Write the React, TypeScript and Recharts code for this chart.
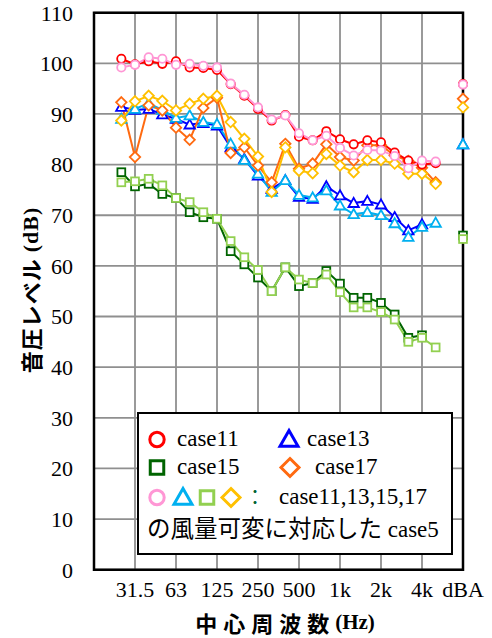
import React from 'react';
import { LineChart, Line, XAxis, YAxis, CartesianGrid, ReferenceArea } from 'recharts';

// 1/3 octave bands, 25 Hz .. 5 kHz (axis index 2..25), dBA sits at index 27
const bands = ['25', '31.5', '40', '50', '63', '80', '100', '125', '160', '200', '250', '315',
  '400', '500', '630', '800', '1k', '1.25k', '1.6k', '2k', '2.5k', '3.15k', '4k', '5k'];
const tickPos = [3, 6, 9, 12, 15, 18, 21, 24, 27];
const tickLabels = ['31.5', '63', '125', '250', '500', '1k', '2k', '4k', 'dBA'];
const yTicks = [0, 10, 20, 30, 40, 50, 60, 70, 80, 90, 100, 110];

const case11 = [100.9, 99.8, 100.4, 99.9, 100.4, 99.2, 99.1, 98.7, 95.9, 93.6, 91.0, 88.7,
  89.8, 85.5, 84.8, 86.6, 85.0, 84.0, 84.8, 84.4, 82.4, 80.8, 80.0, 80.3];
const case13 = [91.4, 90.8, 91.0, 89.9, 89.0, 87.9, 88.2, 87.7, 83.4, 81.1, 77.8, 75.2,
  76.9, 73.6, 73.2, 75.7, 73.9, 72.4, 72.8, 72.1, 69.6, 67.0, 68.2, null];
const case15 = [78.5, 75.7, 76.2, 74.2, 73.4, 70.6, 69.6, 69.3, 62.9, 60.3, 57.7, 55.0,
  59.7, 56.0, 56.6, 59.0, 56.5, 53.7, 53.7, 52.7, 50.4, 45.8, 46.3, null];
const case17 = [92.3, 81.5, 91.7, 90.7, 87.3, 84.9, 91.2, 93.2, 82.3, 83.4, 79.8, 76.5,
  84.1, 79.2, 80.2, 84.0, 81.5, 80.8, 83.8, 83.8, 81.8, 80.7, 79.4, 76.5];
const case5for11 = [99.2, 99.7, 101.2, 100.9, 99.7, 99.9, 99.5, 99.2, 96.0, 93.8, 91.3, 88.9,
  89.7, 86.2, 84.8, 85.7, 83.3, 81.8, 82.9, 82.8, 81.7, 79.3, 80.8, 80.6];
const case5for13 = [89.0, 91.0, 92.1, 90.8, 89.2, 89.7, 88.4, 88.0, 84.1, 80.9, 78.2, 74.6,
  76.9, 74.0, 73.5, 74.9, 71.9, 70.2, 70.6, 70.0, 68.4, 65.7, 67.7, 68.5];
const case5for15 = [76.5, 76.7, 77.2, 75.9, 73.4, 72.6, 70.6, 69.3, 64.9, 61.7, 59.2, 55.0,
  59.7, 57.3, 56.6, 58.3, 54.8, 51.8, 51.8, 50.9, 49.4, 45.0, 45.8, 43.9];
const case5for17 = [88.7, 92.5, 93.6, 92.6, 90.7, 92.0, 93.0, 93.6, 88.4, 85.1, 81.6, 74.6,
  83.4, 78.8, 78.3, 82.1, 79.8, 78.5, 80.9, 80.9, 80.2, 78.2, 78.2, 76.2];

const dBA = { c11: 95.9, c13: 84.0, c15: 66.0, c17: 93.0, p11: 95.8, p13: 84.0, p15: 65.3, p17: 91.3 };

const data: any[] = bands.map((b, k) => ({
  x: k + 2, band: b,
  c11: case11[k], c13: case13[k], c15: case15[k], c17: case17[k],
  p11: case5for11[k], p13: case5for13[k], p15: case5for15[k], p17: case5for17[k],
}));
data.push({ x: 26 });
data.push({ x: 27, band: 'dBA', ...dBA });

const serif = 'Liberation Serif, Times New Roman, DejaVu Serif, serif';
const cjk = 'Noto Sans CJK JP, sans-serif';

type Shape = 'circle' | 'triangle' | 'square' | 'diamond';

function drawShape(shape: Shape, cx: number, cy: number, color: string, s: number, sw: number, key?: any) {
  if (shape === 'circle') {
    return <circle key={key} cx={cx} cy={cy} r={s * 0.8} fill="#fff" stroke={color} strokeWidth={sw} />;
  }
  if (shape === 'triangle') {
    const pts = `${cx},${cy - s} ${cx + s},${cy + s * 0.75} ${cx - s},${cy + s * 0.75}`;
    return <polygon key={key} points={pts} fill="#fff" stroke={color} strokeWidth={sw} />;
  }
  if (shape === 'square') {
    const h = s * 0.75;
    return <rect key={key} x={cx - h} y={cy - h} width={h * 2} height={h * 2} fill="#fff" stroke={color} strokeWidth={sw} />;
  }
  const pts = `${cx},${cy - s} ${cx + s},${cy} ${cx},${cy + s} ${cx - s},${cy}`;
  return <polygon key={key} points={pts} fill="#fff" stroke={color} strokeWidth={sw} />;
}

const dotFor = (shape: Shape, color: string) => (props: any) => {
  const { cx, cy, value, index } = props;
  if (cx == null || cy == null || value == null) return <g key={`e-${index}`} />;
  return drawShape(shape, cx, cy, color, 5.2, 1.8, `d-${index}`);
};

const series: { key: string; color: string; shape: Shape }[] = [
  { key: 'c15', color: '#006400', shape: 'square' },
  { key: 'p15', color: '#92D050', shape: 'square' },
  { key: 'c13', color: '#0000FF', shape: 'triangle' },
  { key: 'p13', color: '#00B0F0', shape: 'triangle' },
  { key: 'c17', color: '#FF6A10', shape: 'diamond' },
  { key: 'p17', color: '#FFC000', shape: 'diamond' },
  { key: 'c11', color: '#FF0000', shape: 'circle' },
  { key: 'p11', color: '#FF97D5', shape: 'circle' },
];

const Sym = ({ shape, color }: { shape: Shape; color: string }) => (
  <svg width={24} height={24} style={{ display: 'block' }}>
    {drawShape(shape, 12, 12.5, color, 9, 3)}
  </svg>
);

const txt: React.CSSProperties = { position: 'absolute', fontFamily: serif, fontSize: 23, lineHeight: '26px', color: '#000', whiteSpace: 'nowrap' };

export default function App() {
  return (
    <div style={{ position: 'absolute', left: 0, top: 0, width: 492, height: 638, background: '#fff' }}>
      <LineChart width={492} height={638} data={data} margin={{ top: 12.7, right: 29, bottom: 0, left: 0 }}>
        <CartesianGrid stroke="#8f8f8f" strokeWidth={1.8} />
        <XAxis dataKey="x" type="number" domain={[0, 27]} ticks={tickPos} interval={0}
          tickFormatter={(v: number) => tickLabels[tickPos.indexOf(v)] ?? ''}
          height={68.3} axisLine={false} tickLine={false} tickSize={0} tickMargin={12}
          tick={{ fontFamily: serif, fontSize: 22, fill: '#000' }} />
        <YAxis type="number" domain={[0, 110]} ticks={yTicks} interval={0} width={94}
          axisLine={false} tickLine={false} tickSize={0} tickMargin={21}
          tick={{ fontFamily: serif, fontSize: 22, fill: '#000' }} />
        <ReferenceArea x1={0} x2={27} y1={0} y2={110} fill="none" stroke="#000" strokeWidth={2.5} ifOverflow="visible" />
        {series.map((s) => (
          <Line key={s.key} dataKey={s.key} stroke={s.color} strokeWidth={2} type="linear"
            dot={dotFor(s.shape, s.color)} activeDot={false} isAnimationActive={false} connectNulls={false} />
        ))}
      </LineChart>

      <svg width={492} height={638} style={{ position: 'absolute', left: 0, top: 0, pointerEvents: 'none' }}>
        <text x={30} y={290} transform="rotate(-90 30 290)" textAnchor="middle" dominantBaseline="central"
          fontWeight="bold" fontSize={22} letterSpacing={1}>
          <tspan fontFamily={cjk}>音圧レベル </tspan>
          <tspan fontFamily={serif}>(dB)</tspan>
        </text>
        <text x={285} y={622} textAnchor="middle" dominantBaseline="central" fontWeight="bold" fontSize={22}>
          <tspan fontFamily={cjk} letterSpacing={6}>中心周波数</tspan>
          <tspan fontFamily={serif} fontSize={21}>(Hz)</tspan>
        </text>
      </svg>

      <div style={{ position: 'absolute', left: 137, top: 412, width: 316, height: 143, border: '2px solid #000', background: '#fff', boxSizing: 'border-box' }}>
        <div style={{ position: 'absolute', left: 6, top: 13 }}><Sym shape="circle" color="#FF0000" /></div>
        <div style={{ ...txt, left: 38, top: 12 }}>case11</div>
        <div style={{ position: 'absolute', left: 138, top: 13 }}><Sym shape="triangle" color="#0000FF" /></div>
        <div style={{ ...txt, left: 168, top: 12 }}>case13</div>

        <div style={{ position: 'absolute', left: 6, top: 41 }}><Sym shape="square" color="#006400" /></div>
        <div style={{ ...txt, left: 38, top: 40 }}>case15</div>
        <div style={{ position: 'absolute', left: 139, top: 41 }}><Sym shape="diamond" color="#FF6A10" /></div>
        <div style={{ ...txt, left: 176, top: 40 }}>case17</div>

        <div style={{ position: 'absolute', left: 6, top: 71 }}><Sym shape="circle" color="#FF97D5" /></div>
        <div style={{ position: 'absolute', left: 32, top: 71 }}><Sym shape="triangle" color="#00B0F0" /></div>
        <div style={{ position: 'absolute', left: 56, top: 71 }}><Sym shape="square" color="#92D050" /></div>
        <div style={{ position: 'absolute', left: 80, top: 71 }}><Sym shape="diamond" color="#FFC000" /></div>
        <div style={{ ...txt, left: 106, top: 70, fontFamily: cjk, fontSize: 20, color: '#006633' }}>：</div>
        <div style={{ ...txt, left: 140, top: 70 }}>case11,13,15,17</div>

        <div style={{ ...txt, left: 8, top: 100 }}>
          <span style={{ fontFamily: cjk, fontSize: 23.5 }}>の風量可変に対応した</span> case5
        </div>
      </div>
    </div>
  );
}
